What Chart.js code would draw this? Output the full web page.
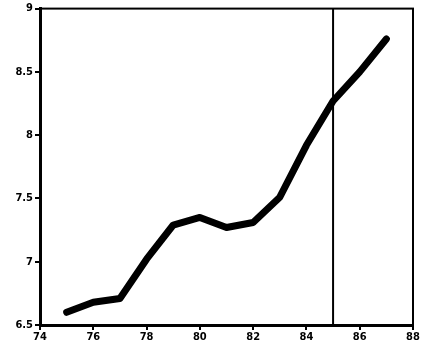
<!DOCTYPE html>
<html>
<head>
<meta charset="utf-8">
<script src="https://cdn.jsdelivr.net/npm/chart.js@4"></script>
<style>
  html, body { margin: 0; padding: 0; background: #fff; }
  canvas { display: block; }
</style>
</head>
<body>
<canvas id="chart" width="432" height="348"></canvas>
<script>
// anos (eixo x) e valores da série
const years = [75, 76, 77, 78, 79, 80, 81, 82, 83, 84, 85, 86, 87];
const values = [6.6, 6.68, 6.71, 7.02, 7.29, 7.35, 7.27, 7.31, 7.51, 7.92, 8.27, 8.5, 8.76];
const breakYear = 85; // linha vertical
const xTicks = [74, 76, 78, 80, 82, 84, 86, 88];
const yTicks = [6.5, 7, 7.5, 8, 8.5, 9];

const tickFont = { family: 'Liberation Sans Narrow, DejaVu Sans Condensed, sans-serif', size: 11, weight: 'bold' };

// moldura em volta da área do gráfico
const frame = {
  id: 'frame',
  afterDatasetsDraw(chart) {
    const { ctx, chartArea: a } = chart;
    ctx.save();
    ctx.strokeStyle = '#000';
    ctx.lineWidth = 2;
    ctx.strokeRect(a.left, a.top, a.right - a.left, a.bottom - a.top);
    ctx.restore();
  }
};

new Chart(document.getElementById('chart'), {
  type: 'line',
  data: {
    datasets: [
      {
        data: years.map((y, i) => ({ x: y, y: values[i] })),
        borderColor: '#000',
        borderWidth: 7,
        pointRadius: 0,
        tension: 0,
        borderCapStyle: 'round',
        borderJoinStyle: 'round'
      },
      {
        data: [{ x: breakYear, y: yTicks[0] }, { x: breakYear, y: yTicks[yTicks.length - 1] }],
        borderColor: '#000',
        borderWidth: 2,
        pointRadius: 0
      }
    ]
  },
  plugins: [frame],
  options: {
    responsive: false,
    animation: false,
    layout: { padding: { top: 8, right: 19, left: 0, bottom: 0 } },
    plugins: { legend: { display: false }, tooltip: { enabled: false } },
    scales: {
      x: {
        type: 'linear',
        min: xTicks[0],
        max: xTicks[xTicks.length - 1],
        afterBuildTicks: s => { s.ticks = xTicks.map(v => ({ value: v })); },
        afterFit: s => { s.height = 23; },
        ticks: { color: '#000', font: tickFont, padding: 1, maxRotation: 0, autoSkip: false, callback: v => String(v) },
        grid: { drawOnChartArea: false, drawTicks: true, tickLength: 5, color: '#000', lineWidth: 2 },
        border: { display: true, color: '#000', width: 3 }
      },
      y: {
        min: yTicks[0],
        max: yTicks[yTicks.length - 1],
        afterBuildTicks: s => { s.ticks = yTicks.map(v => ({ value: v })); },
        afterFit: s => { s.width = 40; },
        ticks: { color: '#000', font: tickFont, padding: 2, callback: v => String(v) },
        grid: { drawOnChartArea: false, drawTicks: true, tickLength: 5, color: '#000', lineWidth: 2 },
        border: { display: true, color: '#000', width: 3 }
      }
    }
  }
});
</script>
</body>
</html>
